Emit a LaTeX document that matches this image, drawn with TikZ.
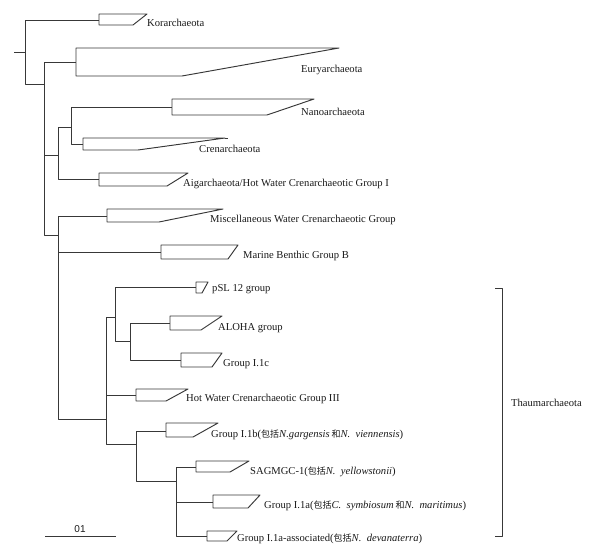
\documentclass[tikz,border=0pt]{standalone}
\usepackage{fontspec}
\setmainfont{Liberation Serif}
\newfontfamily\cjk{Noto Sans CJK SC}
\newfontfamily\scalefont{Liberation Sans}
\newcommand\cladebox[5]{\draw[tree] (#1,#2) -- (#4,#2) -- (#5,#3) -- (#1,#3) -- cycle;}
\begin{document}
\begin{tikzpicture}[x=1bp,y=-1bp,
  tree/.style={draw=black!78, line width=0.95bp, line join=round},
  lbl/.style={anchor=base west, inner sep=0pt, font=\fontsize{10.6bp}{12bp}\selectfont, text=black!90},
  itl/.style={}]
\useasboundingbox (0,0) rectangle (590,554);
% internal nodes
\coordinate (r0) at (14,52);
\coordinate (R) at (25,52);
\coordinate (A) at (44,84);
\coordinate (B) at (58,155);
\coordinate (C) at (71,127);
\coordinate (D) at (58,235);
\coordinate (T) at (106,419);
\coordinate (U) at (115,317);
\coordinate (V) at (130,341);
\coordinate (W) at (136,444);
\coordinate (X) at (176,481);
% tips (left middle of clade boxes)
\coordinate (kor) at (99,20);
\coordinate (eur) at (76,62);
\coordinate (nan) at (172,107);
\coordinate (cre) at (83,144);
\coordinate (aig) at (99,179);
\coordinate (mis) at (107,216);
\coordinate (mbg) at (161,252);
\coordinate (psl) at (196,287);
\coordinate (alo) at (170,323);
\coordinate (i1c) at (181,360);
\coordinate (hw3) at (136,395);
\coordinate (i1b) at (166,431);
\coordinate (sag) at (196,467);
\coordinate (i1a) at (213,502);
\coordinate (iaa) at (207,536);
% branches
\draw[tree] (r0) -- (R);
\draw[tree] (R) |- (kor);
\draw[tree] (R) |- (A);
\draw[tree] (A) |- (eur);
\draw[tree] (A) |- (B);
\draw[tree] (B) |- (C);
\draw[tree] (C) |- (nan);
\draw[tree] (C) |- (cre);
\draw[tree] (B) |- (aig);
\draw[tree] (A) |- (D);
\draw[tree] (D) |- (mis);
\draw[tree] (D) |- (mbg);
\draw[tree] (D) |- (T);
\draw[tree] (T) |- (U);
\draw[tree] (U) |- (psl);
\draw[tree] (U) |- (V);
\draw[tree] (V) |- (alo);
\draw[tree] (V) |- (i1c);
\draw[tree] (T) |- (hw3);
\draw[tree] (T) |- (W);
\draw[tree] (W) |- (i1b);
\draw[tree] (W) |- (X);
\draw[tree] (X) |- (sag);
\draw[tree] (X) |- (i1a);
\draw[tree] (X) |- (iaa);
% collapsed clades
\cladebox{99}{14}{25}{147}{133}
\cladebox{76}{48}{76}{339}{182}
\cladebox{172}{99}{115}{314}{267}
\cladebox{83}{138}{150}{225}{138}
\draw[tree] (225,138) -- (228,138);
\cladebox{99}{173}{186}{188}{167}
\cladebox{107}{209}{222}{223}{159}
\cladebox{161}{245}{259}{238}{228}
\cladebox{196}{282}{293}{208}{202}
\cladebox{170}{316}{330}{222}{201}
\cladebox{181}{353}{367}{222}{212}
\cladebox{136}{389}{401}{188}{166}
\cladebox{166}{423}{437}{218}{193}
\cladebox{196}{461}{472}{249}{230}
\cladebox{213}{495}{508}{260}{248}
\cladebox{207}{531}{541}{237}{227}
% labels
\node[lbl] (Lkor) at (147,26.5) {Korarchaeota};
\node[lbl] (Leur) at (301,72.5) {Euryarchaeota};
\node[lbl] (Lnan) at (301,115.5) {Nanoarchaeota};
\node[lbl] (Lcre) at (199,152.5) {Crenarchaeota};
\node[lbl] (Laig) at (183,186.5) {Aigarchaeota/Hot Water Crenarchaeotic Group I};
\node[lbl] (Lmis) at (210,222.5) {Miscellaneous Water Crenarchaeotic Group};
\node[lbl] (Lmbg) at (243,258.5) {Marine Benthic Group B};
\node[lbl] (Lpsl) at (212,291.5) {pSL 12 group};
\node[lbl] (Lalo) at (218,330.5) {ALOHA group};
\node[lbl] (Li1c) at (223,366) {Group I.1c};
\node[lbl] (Lhw3) at (186,401.5) {Hot Water Crenarchaeotic Group III};
\node[lbl] (Li1b) at (211,437.5) {Group I.1b({\cjk\fontsize{9bp}{10bp}\selectfont 包括}\textit{N.gargensis}\,{\cjk\fontsize{9bp}{10bp}\selectfont 和}\textit{N.\ \ viennensis})};
\node[lbl] (Lsag) at (250,474) {SAGMGC-1({\cjk\fontsize{9bp}{10bp}\selectfont 包括}\textit{N.\ \ yellowstonii})};
\node[lbl] (Li1a) at (264,508.5) {Group I.1a({\cjk\fontsize{9bp}{10bp}\selectfont 包括}\textit{C.\ \ symbiosum}\,{\cjk\fontsize{9bp}{10bp}\selectfont 和}\textit{N.\ \ maritimus})};
\node[lbl] (Liaa) at (237,541.5) {Group I.1a-associated({\cjk\fontsize{9bp}{10bp}\selectfont 包括}\textit{N.\ \ devanaterra})};
% bracket
\coordinate (bt) at (495,288);
\coordinate (bb) at (495,536);
\draw[tree] (bt) -- ++(7,0) |- (bb);
\node[lbl] (Lthm) at (511,406.5) {Thaumarchaeota};
% scale bar
\coordinate (s1) at (45,536);
\coordinate (s2) at (116,536);
\draw[tree] (s1) -- (s2);
\node[lbl, anchor=base, font=\scalefont\fontsize{10bp}{12bp}\selectfont] (Lsc) at (80,532.5) {01};
\end{tikzpicture}
\end{document}
